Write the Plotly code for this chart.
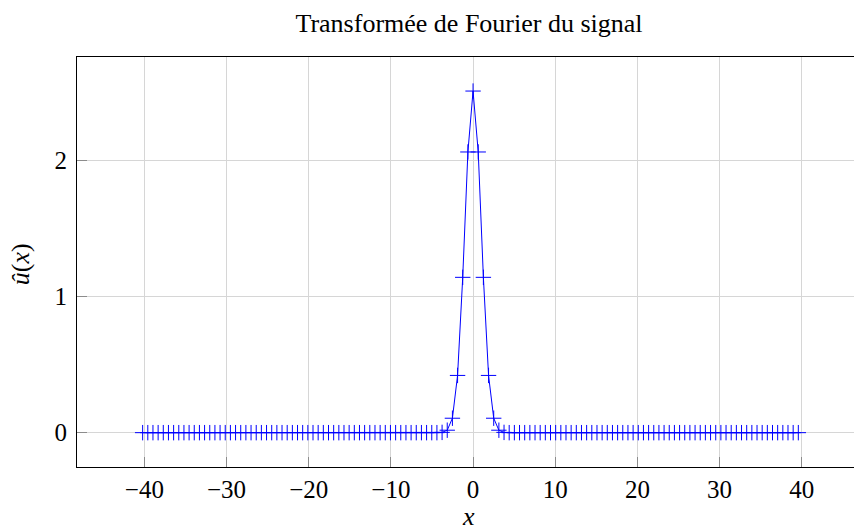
import plotly.graph_objects as go

# Frequencies (x) and Fourier transform magnitude (u_hat)
x_vals = [
    -40.212, -39.584, -38.956, -38.327, -37.699, -37.071, -36.442, -35.814,
    -35.186, -34.558, -33.929, -33.301, -32.673, -32.044, -31.416, -30.788,
    -30.159, -29.531, -28.903, -28.274, -27.646, -27.018, -26.389, -25.761,
    -25.133, -24.504, -23.876, -23.248, -22.619, -21.991, -21.363, -20.735,
    -20.106, -19.478, -18.850, -18.221, -17.593, -16.965, -16.336, -15.708,
    -15.080, -14.451, -13.823, -13.195, -12.566, -11.938, -11.310, -10.681,
    -10.053, -9.425, -8.796, -8.168, -7.540, -6.912, -6.283, -5.655,
    -5.027, -4.398, -3.770, -3.142, -2.513, -1.885, -1.257, -0.628,
    0.000, 0.628, 1.257, 1.885, 2.513, 3.142, 3.770, 4.398,
    5.027, 5.655, 6.283, 6.912, 7.540, 8.168, 8.796, 9.425,
    10.053, 10.681, 11.310, 11.938, 12.566, 13.195, 13.823, 14.451,
    15.080, 15.708, 16.336, 16.965, 17.593, 18.221, 18.850, 19.478,
    20.106, 20.735, 21.363, 21.991, 22.619, 23.248, 23.876, 24.504,
    25.133, 25.761, 26.389, 27.018, 27.646, 28.274, 28.903, 29.531,
    30.159, 30.788, 31.416, 32.044, 32.673, 33.301, 33.929, 34.558,
    35.186, 35.814, 36.442, 37.071, 37.699, 38.327, 38.956, 39.584,
]
u_hat = [
    0, 0, 0, 0, 0, 0, 0, 0,
    0, 0, 0, 0, 0, 0, 0, 0,
    0, 0, 0, 0, 0, 0, 0, 0,
    0, 0, 0, 0, 0, 0, 0, 0,
    0, 0, 0, 0, 0, 0, 0, 0,
    0, 0, 0, 0, 0, 0, 0, 0,
    0, 0, 0, 0, 0, 0, 0, 0,
    0, 0, 0.002, 0.018, 0.106, 0.42, 1.14, 2.06,
    2.507, 2.06, 1.14, 0.42, 0.106, 0.018, 0.002, 0,
    0, 0, 0, 0, 0, 0, 0, 0,
    0, 0, 0, 0, 0, 0, 0, 0,
    0, 0, 0, 0, 0, 0, 0, 0,
    0, 0, 0, 0, 0, 0, 0, 0,
    0, 0, 0, 0, 0, 0, 0, 0,
    0, 0, 0, 0, 0, 0, 0, 0,
    0, 0, 0, 0, 0, 0, 0, 0,
]
x_ticks = [-40, -30, -20, -10, 0, 10, 20, 30, 40]
y_ticks = [0, 1, 2]

FONT = "Liberation Serif"

fig = go.Figure()
fig.add_trace(go.Scatter(
    x=x_vals, y=u_hat, mode="lines+markers",
    line=dict(color="#0000ff", width=1),
    marker=dict(symbol="cross-thin-open", size=11,
                line=dict(color="#0000ff", width=1), color="#0000ff"),
    showlegend=False,
))

fig.update_layout(
    width=854, height=531,
    margin=dict(l=77, r=0, t=57, b=64, pad=0),
    paper_bgcolor="white", plot_bgcolor="white",
    font=dict(family=FONT, size=25, color="black"),
    title=dict(text="Transformée de Fourier du signal",
               x=469 / 854, xref="container", xanchor="center",
               y=1 - 23 / 531, yref="container", yanchor="middle",
               font=dict(family=FONT, size=26, color="black")),
    xaxis=dict(range=[-48.2, 46.36], tickvals=x_ticks,
               ticktext=[("\u2212" + str(-v)) if v < 0 else str(v) for v in x_ticks],
               showgrid=True, gridcolor="#d6d6d6", gridwidth=1,
               zeroline=False, showline=True, linecolor="black", linewidth=1,
               mirror=True, ticks="inside", ticklen=10, tickcolor="#8c8c8c",
               tickwidth=1, tickfont=dict(family=FONT, size=25, color="black")),
    yaxis=dict(range=[-0.252, 2.757], tickvals=y_ticks,
               showgrid=True, gridcolor="#d6d6d6", gridwidth=1,
               zeroline=False, showline=True, linecolor="black", linewidth=1,
               mirror=False, ticks="inside", ticklen=10, tickcolor="#8c8c8c",
               tickwidth=1, ticklabelstandoff=4,
               tickfont=dict(family=FONT, size=25, color="black")),
    annotations=[
        dict(text="<i>x</i>", xref="paper", yref="paper",
             x=(469 - 77) / 777, y=(466.7 - 516) / 409.7,
             xanchor="center", yanchor="middle", showarrow=False,
             font=dict(family=FONT, size=26, color="black")),
        dict(text="<i>û</i>(<i>x</i>)", xref="paper", yref="paper",
             x=(20 - 77) / 777, y=(466.7 - 264) / 409.7, textangle=-90,
             xanchor="center", yanchor="middle", showarrow=False,
             font=dict(family=FONT, size=26, color="black")),
    ],
)

fig.write_html("out.html")
